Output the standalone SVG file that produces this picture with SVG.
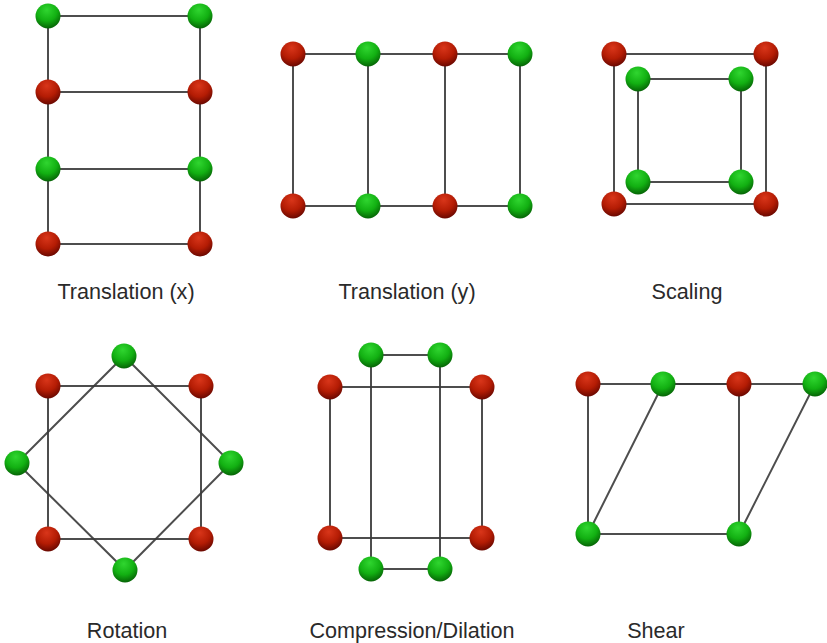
<svg xmlns="http://www.w3.org/2000/svg" width="827" height="643" viewBox="0 0 827 643">
<defs>
<radialGradient id="gRed" cx="0.45" cy="0.3" r="0.75" fx="0.45" fy="0.25">
<stop offset="0" stop-color="#d9361a"/>
<stop offset="0.55" stop-color="#b41c04"/>
<stop offset="1" stop-color="#5e0500"/>
</radialGradient>
<radialGradient id="gGreen" cx="0.45" cy="0.3" r="0.75" fx="0.45" fy="0.25">
<stop offset="0" stop-color="#30d630"/>
<stop offset="0.55" stop-color="#12b012"/>
<stop offset="1" stop-color="#045804"/>
</radialGradient>
<style>
.e{stroke:#3a3a3a;stroke-width:2;fill:none;stroke-opacity:0.9}
.r{fill:url(#gRed)}
.g{fill:url(#gGreen)}
.lbl{font-family:"Liberation Sans",Arial,sans-serif;font-size:21.6px;fill:#2a2a2a;text-anchor:middle}
</style>
</defs>
<rect width="827" height="643" fill="#ffffff"/>
<g id="connectors">
<path class="e" d="M48 16H200M48 92H200M48 169H200M48 244H200M48 16V244M200 16V244"/>
<path class="e" d="M293 54H520M293 206H520M293 54V206M368 54V206M445 54V206M520 54V206"/>
<path class="e" d="M614 54H766V204H614Z"/>
<path class="e" d="M638 79H741V182H638Z"/>
<path class="e" d="M48 386H201V539H48Z"/>
<path class="e" d="M124 356L231 463L125 570L17 463Z"/>
<path class="e" d="M330 387H482V538H330Z"/>
<path class="e" d="M371 355H440V569H371Z"/>
<path class="e" d="M588 384H739V534H588Z"/>
<path class="e" d="M588 534L663 384H815L739 534"/>
</g>
<g id="tx">
<g id="tx-g1"><circle class="g" cx="48" cy="16" r="12.5"/></g>
<g id="tx-g2"><circle class="g" cx="200" cy="16" r="12.5"/></g>
<g id="tx-r1"><circle class="r" cx="48" cy="92" r="12.5"/></g>
<g id="tx-r2"><circle class="r" cx="200" cy="92" r="12.5"/></g>
<g id="tx-g3"><circle class="g" cx="48" cy="169" r="12.5"/></g>
<g id="tx-g4"><circle class="g" cx="200" cy="169" r="12.5"/></g>
<g id="tx-r3"><circle class="r" cx="48" cy="244" r="12.5"/></g>
<g id="tx-r4"><circle class="r" cx="200" cy="244" r="12.5"/></g>
</g>
<g id="ty">
<g id="ty-r1"><circle class="r" cx="293" cy="54" r="12.5"/></g>
<g id="ty-g1"><circle class="g" cx="368" cy="54" r="12.5"/></g>
<g id="ty-r2"><circle class="r" cx="445" cy="54" r="12.5"/></g>
<g id="ty-g2"><circle class="g" cx="520" cy="54" r="12.5"/></g>
<g id="ty-r3"><circle class="r" cx="293" cy="206" r="12.5"/></g>
<g id="ty-g3"><circle class="g" cx="368" cy="206" r="12.5"/></g>
<g id="ty-r4"><circle class="r" cx="445" cy="206" r="12.5"/></g>
<g id="ty-g4"><circle class="g" cx="520" cy="206" r="12.5"/></g>
</g>
<g id="sc">
<g id="sc-r1"><circle class="r" cx="614" cy="54" r="12.5"/></g>
<g id="sc-r2"><circle class="r" cx="766" cy="54" r="12.5"/></g>
<g id="sc-r3"><circle class="r" cx="614" cy="204" r="12.5"/></g>
<g id="sc-r4"><circle class="r" cx="766" cy="204" r="12.5"/></g>
<g id="sc-g1"><circle class="g" cx="638" cy="79" r="12.5"/></g>
<g id="sc-g2"><circle class="g" cx="741" cy="79" r="12.5"/></g>
<g id="sc-g3"><circle class="g" cx="638" cy="182" r="12.5"/></g>
<g id="sc-g4"><circle class="g" cx="741" cy="182" r="12.5"/></g>
</g>
<g id="ro">
<g id="ro-r1"><circle class="r" cx="48" cy="386" r="12.5"/></g>
<g id="ro-r2"><circle class="r" cx="201" cy="386" r="12.5"/></g>
<g id="ro-r3"><circle class="r" cx="48" cy="539" r="12.5"/></g>
<g id="ro-r4"><circle class="r" cx="201" cy="539" r="12.5"/></g>
<g id="ro-g1"><circle class="g" cx="124" cy="356" r="12.5"/></g>
<g id="ro-g2"><circle class="g" cx="17" cy="463" r="12.5"/></g>
<g id="ro-g3"><circle class="g" cx="231" cy="463" r="12.5"/></g>
<g id="ro-g4"><circle class="g" cx="125" cy="570" r="12.5"/></g>
</g>
<g id="cd">
<g id="cd-r1"><circle class="r" cx="330" cy="387" r="12.5"/></g>
<g id="cd-r2"><circle class="r" cx="482" cy="387" r="12.5"/></g>
<g id="cd-r3"><circle class="r" cx="330" cy="538" r="12.5"/></g>
<g id="cd-r4"><circle class="r" cx="482" cy="538" r="12.5"/></g>
<g id="cd-g1"><circle class="g" cx="371" cy="355" r="12.5"/></g>
<g id="cd-g2"><circle class="g" cx="440" cy="355" r="12.5"/></g>
<g id="cd-g3"><circle class="g" cx="371" cy="569" r="12.5"/></g>
<g id="cd-g4"><circle class="g" cx="440" cy="569" r="12.5"/></g>
</g>
<g id="sh">
<g id="sh-r1"><circle class="r" cx="588" cy="384" r="12.5"/></g>
<g id="sh-g1"><circle class="g" cx="663" cy="384" r="12.5"/></g>
<g id="sh-r2"><circle class="r" cx="739" cy="384" r="12.5"/></g>
<g id="sh-g2"><circle class="g" cx="815" cy="384" r="12.5"/></g>
<g id="sh-g3"><circle class="g" cx="588" cy="534" r="12.5"/></g>
<g id="sh-g4"><circle class="g" cx="739" cy="534" r="12.5"/></g>
</g>
<g id="labels">
<text class="lbl" x="126" y="299">Translation (x)</text>
<text class="lbl" x="407" y="299">Translation (y)</text>
<text class="lbl" x="687" y="299">Scaling</text>
<text class="lbl" x="127" y="638">Rotation</text>
<text class="lbl" x="412" y="638">Compression/Dilation</text>
<text class="lbl" x="656" y="638">Shear</text>
</g>
</svg>
